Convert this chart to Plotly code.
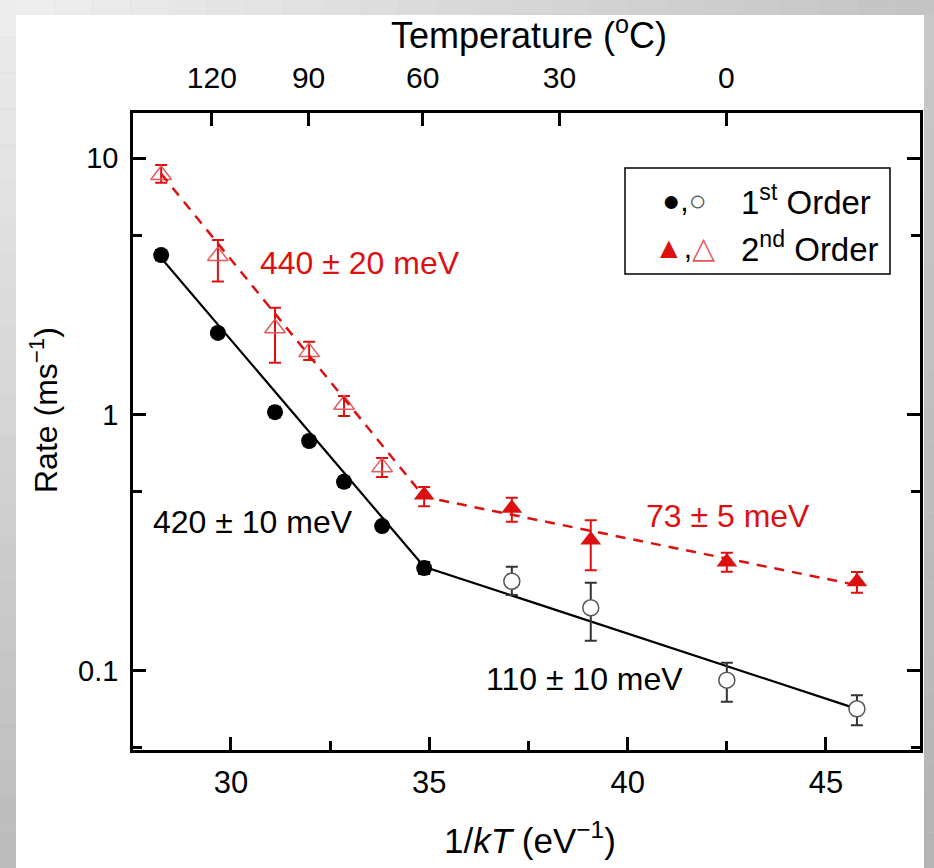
import plotly.graph_objects as go

# ---------------- data ----------------
# 1st order, filled circles
x_c1 = [28.24, 29.67, 31.11, 31.97, 32.85, 33.81, 34.87]
y_c1 = [4.19, 2.08, 1.02, 0.787, 0.545, 0.366, 0.251]
hi_c1 = [4.38, 2.14, 1.067, 0.823, 0.570, 0.376, 0.265]
lo_c1 = [4.00, 2.02, 0.975, 0.752, 0.521, 0.356, 0.238]
# 1st order, open circles
x_c2 = [37.08, 39.07, 42.50, 45.78]
y_c2 = [0.223, 0.1756, 0.0916, 0.0708]
hi_c2 = [0.254, 0.220, 0.107, 0.080]
lo_c2 = [0.197, 0.1306, 0.0754, 0.0611]
# 2nd order, open triangles
x_t2 = [28.24, 29.67, 31.11, 31.97, 32.85, 33.81]
y_t2 = [8.61, 4.15, 2.17, 1.75, 1.09, 0.622]
hi_t2 = [9.41, 4.80, 2.61, 1.92, 1.18, 0.676]
lo_t2 = [8.03, 3.30, 1.59, 1.63, 0.985, 0.569]
# 2nd order, filled triangles
x_t1 = [34.87, 37.08, 39.07, 42.50, 45.78]
y_t1 = [0.484, 0.430, 0.323, 0.265, 0.222]
hi_t1 = [0.520, 0.472, 0.386, 0.288, 0.242]
lo_t1 = [0.438, 0.381, 0.246, 0.243, 0.201]
# Arrhenius fits (piecewise)
fit1_x = [28.24, 34.87, 45.80]
fit1_y = [4.08, 0.254, 0.0706]
fit2_x = [28.24, 34.87, 45.80]
fit2_y = [8.70, 0.476, 0.215]
# axes
x_ticks = [30, 35, 40, 45]
y_ticks = [0.1, 1, 10]
y_ticktext = ["0.1", "1", "10"]
y_minor = [0.05, 0.5, 5]
temp_ticks_C = [120, 90, 60, 30, 0]
x_range = [27.53, 47.37]
y_range_log = [-1.311, 1.177]

K_B = 8.617e-5  # eV/K
temp_tick_pos = [1.0 / (K_B * (t + 273.15)) for t in temp_ticks_C]

RED = "#dd1010"
RED_LIGHT = "#e35a5a"
FONT = "Liberation Sans, Arial, sans-serif"


def err(y, hi, lo):
    return dict(type="data", symmetric=False,
                array=[h - v for h, v in zip(hi, y)],
                arrayminus=[v - l for v, l in zip(y, lo)])


fig = go.Figure()

# fit lines
fig.add_trace(go.Scatter(x=fit2_x, y=fit2_y, mode="lines", xaxis="x2",
                         line=dict(color=RED, width=2.5, dash="10px,8px"),
                         showlegend=False, hoverinfo="skip"))
fig.add_trace(go.Scatter(x=fit1_x, y=fit1_y, mode="lines",
                         line=dict(color="black", width=2.2),
                         showlegend=False, hoverinfo="skip"))

# markers
e1 = err(y_c1, hi_c1, lo_c1)
e1.update(color="black", thickness=2, width=6)
fig.add_trace(go.Scatter(x=x_c1, y=y_c1, mode="markers", error_y=e1,
                         marker=dict(symbol="circle", size=16, color="black"),
                         showlegend=False))
e2 = err(y_c2, hi_c2, lo_c2)
e2.update(color="#333333", thickness=2, width=6)
fig.add_trace(go.Scatter(x=x_c2, y=y_c2, mode="markers", error_y=e2,
                         marker=dict(symbol="circle", size=16, color="white",
                                     line=dict(color="#555555", width=1.5)),
                         showlegend=False))
e3 = err(y_t2, hi_t2, lo_t2)
e3.update(color=RED, thickness=2, width=6)
fig.add_trace(go.Scatter(x=x_t2, y=y_t2, mode="markers", error_y=e3,
                         marker=dict(symbol="triangle-up-open", size=18,
                                     color=RED_LIGHT, line=dict(width=1.5)),
                         showlegend=False))
e4 = err(y_t1, hi_t1, lo_t1)
e4.update(color=RED, thickness=2, width=6)
fig.add_trace(go.Scatter(x=x_t1, y=y_t1, mode="markers", error_y=e4,
                         marker=dict(symbol="triangle-up", size=18, color=RED),
                         showlegend=False))

axis_common = dict(showline=True, linecolor="black", linewidth=2.5,
                   ticks="inside", ticklen=13, tickwidth=2.5, tickcolor="black",
                   showgrid=False, zeroline=False)

fig.update_layout(
    width=934, height=868,
    margin=dict(l=133, r=14, t=113, b=118),
    paper_bgcolor="#d0d0d0",
    plot_bgcolor="white",
    font=dict(family=FONT, color="black"),
    showlegend=False,
    xaxis=dict(range=x_range, tickvals=x_ticks, mirror=True,
               ticklabelstandoff=3,
               tickfont=dict(family=FONT, size=31, color="black"),
               minor=dict(ticks="inside", ticklen=9, tickwidth=2.5,
                          tickcolor="black", dtick=2.5, tick0=30),
               **axis_common),
    xaxis2=dict(range=x_range, matches="x", overlaying="x", side="top",
                tickvals=temp_tick_pos, ticktext=[str(t) for t in temp_ticks_C],
                ticklabelstandoff=10,
                tickfont=dict(family=FONT, size=30, color="black"),
                **axis_common),
    yaxis=dict(type="log", range=y_range_log, tickvals=y_ticks,
               ticktext=y_ticktext, mirror="ticks",
               ticklabelstandoff=6,
               tickfont=dict(family=FONT, size=29, color="black"),
               minor=dict(ticks="inside", ticklen=9, tickwidth=2.5,
                          tickcolor="black", tickvals=y_minor),
               **axis_common),
)


def px(xp):
    return (xp - 133) / 787.0


def py(yp):
    return (750 - yp) / 637.0


shapes = []
# slide-like gray gradient frame
n = 24
for i in range(n):
    g_left = int(236 - (236 - 188) * i / (n - 1))
    shapes.append(dict(type="rect", xref="paper", yref="paper", layer="below",
                       x0=px(0), x1=px(16), y0=py(i * 868 / n), y1=py((i + 1) * 868 / n),
                       fillcolor=f"rgb({g_left},{g_left},{g_left})", line=dict(width=0)))
    g_top = int(238 - (238 - 196) * i / (n - 1))
    shapes.append(dict(type="rect", xref="paper", yref="paper", layer="below",
                       x0=px(16 + i * 918 / n), x1=px(16 + (i + 1) * 918 / n), y0=py(15), y1=py(0),
                       fillcolor=f"rgb({g_top},{g_top},{g_top})", line=dict(width=0)))
    g_right = int(200 - (200 - 180) * i / (n - 1))
    shapes.append(dict(type="rect", xref="paper", yref="paper", layer="below",
                       x0=px(924), x1=px(934), y0=py(15 + i * 853 / n), y1=py(15 + (i + 1) * 853 / n),
                       fillcolor=f"rgb({g_right},{g_right},{g_right})", line=dict(width=0)))
shapes.append(dict(type="rect", xref="paper", yref="paper", layer="below",
                   x0=px(16), x1=px(924), y0=py(868), y1=py(15),
                   fillcolor="white", line=dict(width=0)))
# legend box
shapes.append(dict(type="rect", xref="paper", yref="paper",
                   x0=px(625), x1=px(890), y0=py(274), y1=py(168),
                   fillcolor="white", line=dict(color="black", width=1.5)))
fig.update_layout(shapes=shapes)

ann = []


def A(text, x, y, size, color="black", xanchor="center", textangle=0):
    ann.append(dict(text=text, xref="paper", yref="paper", x=x, y=y,
                    xanchor=xanchor, yanchor="middle", showarrow=False,
                    textangle=textangle,
                    font=dict(family=FONT, size=size, color=color)))


A("440 \u00b1 20 meV", px(360), py(263), 32, RED)
A("420 \u00b1 10 meV", px(253), py(522), 32)
A("73 \u00b1 5 meV", px(728), py(516), 32, RED)
A("110 \u00b1 10 meV", px(584), py(679), 32)
# axis titles
A("Temperature (<sup>o</sup>C)", px(529), py(33), 36)
A("1/<i>kT</i> (eV<sup>\u22121</sup>)", px(530), py(838), 35)
A("Rate (ms<sup>\u22121</sup>)", px(44), py(410), 32, textangle=-90)
# legend contents
A("<span style='color:black'>\u25cf</span>,<span style='color:#555555'>\u25cb</span>",
  px(684), py(200), 30, "black")
A("<span style='color:" + RED + "'>\u25b2</span>,<span style='color:" + RED_LIGHT + "'>\u25b3</span>",
  px(684), py(247), 30, "black")
A("1<sup>st</sup> Order", px(739), py(200), 33, xanchor="left")
A("2<sup>nd</sup> Order", px(739), py(247), 33, xanchor="left")
fig.update_layout(annotations=ann)

fig.write_html("out.html", config={"displayModeBar": False},
               post_script="document.body.style.margin='0';")
